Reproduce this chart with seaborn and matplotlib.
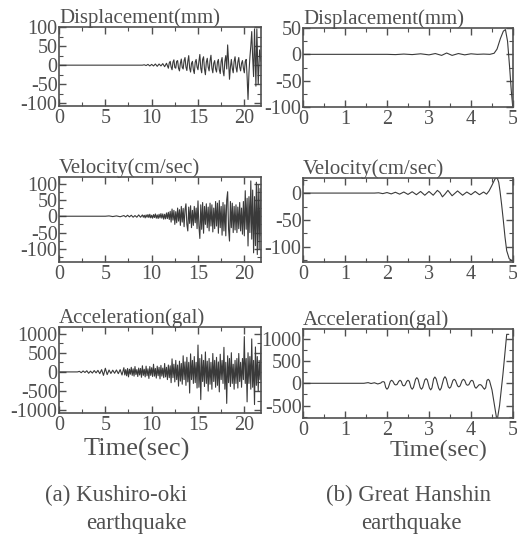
import matplotlib
matplotlib.use('Agg')
import matplotlib.pyplot as plt
import seaborn as sns
from matplotlib.ticker import MultipleLocator

# (time s, value)
kushiro_disp = [(0.0, 0), (9.0, 0), (9.2, 1), (9.4, -1), (9.6, 2), (9.8, -2), (10.0, 2), (10.2, -2),
                (10.4, 3), (10.6, -3), (10.8, 3), (11.0, -2), (11.2, 4), (11.4, -4), (11.6, 5),
                (11.8, -8), (11.9, 6), (12.0, 10), (12.1, -5), (12.2, -12), (12.3, 8), (12.4, 14),
                (12.5, -6), (12.6, -8), (12.7, 10), (12.8, 12), (12.9, -8), (13.0, -15), (13.1, 5),
                (13.2, 16), (13.3, -6), (13.4, -10), (13.5, 12), (13.6, 20), (13.7, -5), (13.8, -14),
                (13.9, 10), (14.0, 25), (14.1, -8), (14.2, -18), (14.3, 5), (14.4, 10), (14.5, -12),
                (14.6, -22), (14.7, 8), (14.8, 15), (14.9, -5), (15.0, -12), (15.1, 10), (15.2, 28),
                (15.3, -8), (15.4, -20), (15.5, 15), (15.6, 22), (15.7, -10), (15.8, -25), (15.9, 8),
                (16.0, 18), (16.1, -5), (16.2, -15), (16.3, 12), (16.4, 26), (16.5, -8), (16.6, -20),
                (16.7, 5), (16.8, 12), (16.9, -10), (17.0, -18), (17.1, 8), (17.2, 15), (17.3, -12),
                (17.4, -22), (17.5, 10), (17.6, 20), (17.7, -15), (17.8, -28), (17.9, 10), (18.0, 25),
                (18.1, -10), (18.2, 53), (18.3, 10), (18.4, -37), (18.5, -5), (18.6, 15), (18.7, -8),
                (18.8, -20), (18.9, 10), (19.0, 22), (19.1, -5), (19.2, -18), (19.3, 8), (19.4, 20),
                (19.5, -5), (19.6, -15), (19.7, 5), (19.8, 12), (19.9, -8), (20.0, -20), (20.1, 10),
                (20.2, 15), (20.3, -30), (20.4, -90), (20.5, -20), (20.6, 20), (20.7, 50), (20.8, 88),
                (20.9, 20), (21.0, -30), (21.1, 95), (21.25, -55), (21.35, 95), (21.5, -50),
                (21.65, 40), (21.8, 10)]

kushiro_vel = [(0.0, 0), (5.0, 0), (5.4, 1), (5.8, -1), (6.2, 1), (6.6, -1.5), (7.0, 2), (7.2, -2),
               (7.4, 3), (7.6, -2), (7.8, 3), (8.0, -3), (8.2, 2), (8.4, -3), (8.6, 4), (8.8, -3),
               (9.0, 4), (9.1, -3), (9.2, 3), (9.3, -5), (9.4, 4), (9.5, -3), (9.6, 5), (9.7, -4),
               (9.8, 6), (9.9, -5), (10.0, 3), (10.1, -6), (10.2, 5), (10.3, -4), (10.4, 7), (10.5, -6),
               (10.6, 4), (10.7, -7), (10.8, 6), (10.9, -5), (11.0, 8), (11.1, -6), (11.2, 7),
               (11.3, -9), (11.4, 6), (11.5, -8), (11.6, 10), (11.7, -7), (11.8, 12), (11.9, -10),
               (12.0, 15), (12.1, -18), (12.2, 22), (12.3, -12), (12.4, 18), (12.5, -25), (12.6, 14),
               (12.7, -20), (12.8, 25), (12.9, -15), (13.0, 20), (13.1, -28), (13.2, 30), (13.3, -18),
               (13.4, 24), (13.5, -32), (13.6, 20), (13.7, 38), (13.8, -25), (13.9, -45), (14.0, 28),
               (14.1, -22), (14.2, 32), (14.3, -35), (14.4, 18), (14.5, -28), (14.6, 30), (14.7, -20),
               (14.8, 25), (14.9, -38), (15.0, 47), (15.1, -30), (15.2, -68), (15.3, 35), (15.4, -40),
               (15.5, 42), (15.6, -52), (15.7, 30), (15.8, -25), (15.9, 38), (16.0, -35), (16.1, 28),
               (16.2, -45), (16.3, 40), (16.4, -30), (16.5, 35), (16.6, -48), (16.7, 25), (16.8, -38),
               (16.9, 45), (17.0, -30), (17.1, 40), (17.2, -52), (17.3, 48), (17.4, -35), (17.5, 30),
               (17.6, -58), (17.7, 42), (17.8, -45), (17.9, 35), (18.0, -60), (18.1, 50), (18.2, 75),
               (18.3, -40), (18.4, -76), (18.5, 45), (18.6, -35), (18.7, 40), (18.8, -50), (18.9, 30),
               (19.0, -42), (19.1, 35), (19.2, -50), (19.3, 28), (19.4, -38), (19.5, 42), (19.6, -45),
               (19.7, 25), (19.8, -55), (19.9, 45), (20.0, -60), (20.1, 78), (20.2, -40), (20.3, 55),
               (20.4, -91), (20.5, 60), (20.6, -50), (20.7, 108), (20.8, -70), (20.9, 80),
               (21.0, -112), (21.1, 60), (21.2, -90), (21.3, 104), (21.4, -117), (21.5, 95),
               (21.6, -100), (21.7, 85), (21.8, -60)]

kushiro_acc = [(0.0, 0), (2.0, 0), (2.2, 15), (2.4, -20), (2.6, 25), (2.8, -15), (3.0, 30), (3.2, -35),
               (3.4, 20), (3.6, -30), (3.8, 35), (4.0, -25), (4.2, 40), (4.4, -45), (4.6, 60),
               (4.8, -90), (5.0, 95), (5.2, -70), (5.4, 50), (5.6, -40), (5.8, 45), (6.0, -35),
               (6.2, 50), (6.4, -45), (6.6, 60), (6.8, -80),
               (7.0, 110), (7.1, -80), (7.2, 60), (7.3, -100), (7.4, 90), (7.5, -130), (7.6, 70),
               (7.7, -60), (7.8, 120), (7.9, -90), (8.0, 80), (8.1, -110), (8.2, 140), (8.3, -70),
               (8.4, 60), (8.5, -120), (8.6, 100), (8.7, -80), (8.8, 90), (8.9, -140), (9.0, 160),
               (9.1, -90), (9.2, 70), (9.3, -130), (9.4, 150), (9.5, -100), (9.6, 80), (9.7, -170),
               (9.8, 140), (9.9, -90), (10.0, 110), (10.1, -120), (10.2, 200), (10.3, -110),
               (10.4, 90), (10.5, -160), (10.6, 150), (10.7, -100), (10.8, 120), (10.9, -180),
               (11.0, 170), (11.1, -110), (11.2, 100), (11.3, -150), (11.4, 220), (11.5, -130),
               (11.6, 120), (11.7, -200), (11.8, 180), (11.9, -150), (12.0, 160), (12.1, -280),
               (12.2, 340), (12.3, -150), (12.4, 200), (12.5, -260), (12.6, 300), (12.7, -200),
               (12.8, 180), (12.9, -370), (13.0, 280), (13.1, -240), (13.2, 220), (13.3, -320),
               (13.4, 420), (13.5, -200), (13.6, 260), (13.7, -350), (13.8, 380), (13.9, -260),
               (14.0, 250), (14.1, -550), (14.2, 470), (14.3, -200), (14.4, 300), (14.5, -300),
               (14.6, 400), (14.7, -280), (14.8, 250), (14.9, -420), (15.0, 700), (15.1, -400),
               (15.2, 350), (15.3, -720), (15.4, 450), (15.5, -250), (15.6, 300), (15.7, -380),
               (15.8, 520), (15.9, -300), (16.0, 280), (16.1, -500), (16.2, 350), (16.3, -320),
               (16.4, 250), (16.5, -450), (16.6, 480), (16.7, -250), (16.8, 300), (16.9, -400),
               (17.0, 380), (17.1, -350), (17.2, 260), (17.3, -520), (17.4, 460), (17.5, -200),
               (17.6, 300), (17.7, -300), (17.8, 640), (17.9, -450), (18.0, 250), (18.1, -820),
               (18.2, 420), (18.3, -280), (18.4, 350), (18.5, -380), (18.6, 500), (18.7, -300),
               (18.8, 200), (18.9, -450), (19.0, 300), (19.1, -300), (19.2, 350), (19.3, -420),
               (19.4, 480), (19.5, -250), (19.6, 250), (19.7, -400), (19.8, 350), (19.9, -200),
               (20.0, 920), (20.1, -300), (20.2, 350), (20.3, -780), (20.4, 500), (20.5, -300),
               (20.6, 400), (20.7, -450), (20.8, 860), (20.9, -400), (21.0, 300), (21.1, -850),
               (21.2, 650), (21.3, -350), (21.4, 400), (21.5, -500), (21.6, 300), (21.7, -200),
               (21.8, 650)]

hanshin_disp = [(0.0, 0), (2.0, 0), (2.2, -0.5), (2.4, 0.5), (2.6, -0.5), (2.8, 1), (3.0, -1), (3.15, 1.5),
                (3.3, -2), (3.42, 2.5), (3.55, -2), (3.7, 1.5), (3.85, -1), (4.0, 1), (4.15, 0),
                (4.3, 0.5), (4.45, 0), (4.55, 2), (4.62, 10), (4.7, 30), (4.77, 44), (4.82, 47),
                (4.87, 25), (4.92, -25), (4.96, -70), (5.0, -105)]

hanshin_vel = [(0.0, 0), (1.7, 0), (1.8, 0.5), (1.9, -1), (2.0, 1), (2.1, -1.5), (2.2, 1.5), (2.3, -2),
               (2.4, 2), (2.5, -2.5), (2.6, 2.5), (2.7, -3), (2.8, 3), (2.9, -4), (3.0, 3), (3.1, -4),
               (3.2, 5), (3.26, 1), (3.32, -7), (3.38, -2), (3.45, 5), (3.55, -5), (3.68, 4), (3.8, -4),
               (3.9, 2), (4.0, -3), (4.1, 3), (4.2, -3), (4.3, 2), (4.37, -2), (4.43, 4), (4.49, 13),
               (4.57, 26), (4.62, 29), (4.66, 20), (4.69, 4), (4.73, -22), (4.77, -51), (4.81, -82),
               (4.85, -107), (4.91, -122), (4.97, -125), (5.0, -126)]

hanshin_acc = [(0.0, 0), (1.45, 0), (1.55, 15), (1.62, -5), (1.7, 12), (1.78, -15), (1.85, 5),
               (1.88, 30), (1.91, 37), (1.94, 25), (1.97, -95), (2.0, -133), (2.03, -100), (2.08, 45),
               (2.11, 67), (2.14, 45), (2.18, -25), (2.21, -37), (2.24, -25), (2.28, 45), (2.31, 67),
               (2.34, 45), (2.37, -40), (2.4, -59), (2.43, -40), (2.47, 45), (2.5, 67), (2.53, 45),
               (2.57, -95), (2.6, -133), (2.63, -95), (2.68, 90), (2.71, 126), (2.74, 90),
               (2.79, -95), (2.82, -133), (2.85, -95), (2.9, 75), (2.93, 104), (2.96, 75),
               (3.01, -105), (3.04, -148), (3.07, -105), (3.11, 100), (3.14, 141), (3.17, 100),
               (3.23, -110), (3.26, -155), (3.29, -110), (3.35, 105), (3.38, 148), (3.41, 105),
               (3.46, -80), (3.49, -111), (3.52, -80), (3.57, 65), (3.6, 89), (3.63, 65),
               (3.68, -58), (3.71, -81), (3.74, -58), (3.79, 65), (3.82, 89), (3.85, 65),
               (3.89, -30), (3.92, -44), (3.95, -30), (3.99, 48), (4.02, 67), (4.05, 48),
               (4.09, -80), (4.12, -111), (4.15, -80), (4.19, -35), (4.22, -30), (4.25, -45),
               (4.29, -100), (4.32, -133), (4.35, -100), (4.38, 65), (4.41, 89), (4.44, 60),
               (4.5, -150), (4.56, -500), (4.62, -850), (4.68, -500), (4.76, 200), (4.85, 1100),
               (4.9, 1100)]

titles = ['Displacement(mm)', 'Velocity(cm/sec)', 'Acceleration(gal)']
captions = [('(a) Kushiro-oki', 'earthquake'), ('(b) Great Hanshin', 'earthquake')]

sns.set_style('ticks')
plt.rcParams['font.family'] = ['Liberation Serif', 'DejaVu Serif']
plt.rcParams['axes.unicode_minus'] = False

ink = '#505050'
trace = '#3a3a3a'
W, H = 517, 540


def box(l, t, r, b):
    return [l / W, 1 - b / H, (r - l) / W, (b - t) / H]


panels = [
    # series, box (px), xlim, ylim, x major/minor, y major/minor
    (kushiro_disp, box(59, 27, 261, 106), (0, 21.8), (-107, 100), (5, 2.5), (50, 25)),
    (kushiro_vel, box(59, 177, 261, 262), (0, 21.8), (-140, 120), (5, 2.5), (50, 25)),
    (kushiro_acc, box(59, 327, 261, 413), (0, 21.8), (-1070, 1170), (5, 2.5), (500, 250)),
    (hanshin_disp, box(303, 28, 513, 107), (0, 5), (-100, 50), (1, 0.5), (50, 25)),
    (hanshin_vel, box(303, 178, 513, 262), (0, 5), (-128, 28), (1, 0.5), (50, 25)),
    (hanshin_acc, box(303, 329, 513, 418), (0, 5), (-780, 1220), (1, 0.5), (500, 250)),
]

fig = plt.figure(figsize=(5.17, 5.40), dpi=100)

for i, (series, rect, xl, yl, xt, yt) in enumerate(panels):
    ax = fig.add_axes(rect)
    t = [p[0] for p in series]
    v = [p[1] for p in series]
    sns.lineplot(x=t, y=v, ax=ax, color=trace, linewidth=0.8, estimator=None, sort=False)
    ax.set_xlim(*xl)
    ax.set_ylim(*yl)
    ax.xaxis.set_major_locator(MultipleLocator(xt[0]))
    ax.xaxis.set_minor_locator(MultipleLocator(xt[1]))
    ax.yaxis.set_major_locator(MultipleLocator(yt[0]))
    ax.yaxis.set_minor_locator(MultipleLocator(yt[1]))
    ax.tick_params(which='both', direction='in', top=True, right=True, colors=ink,
                   labelsize=14.5, labelcolor=ink)
    ax.tick_params(which='major', length=5, width=1.0)
    ax.tick_params(which='minor', length=3, width=0.8)
    ax.tick_params(axis='y', pad=1)
    ax.tick_params(axis='x', pad=2)
    for s in ax.spines.values():
        s.set_color(ink)
        s.set_linewidth(1.2)
    h_px = rect[3] * H
    ax.text(0.0, 1 + 4 / h_px, titles[i % 3], transform=ax.transAxes, ha='left',
            va='baseline', fontsize=15, color=ink)

# x labels and captions placed in pixel positions
fig.text(137 / W, 1 - 449 / H, 'Time(sec)', ha='center', va='center', fontsize=19, color=ink)
fig.text(439 / W, 1 - 450 / H, 'Time(sec)', ha='center', va='center', fontsize=17.5, color=ink)
fig.text(45 / W, 1 - 495 / H, captions[0][0], ha='left', va='center', fontsize=16.5, color=ink)
fig.text(86 / W, 1 - 524 / H, captions[0][1], ha='left', va='center', fontsize=16.5, color=ink)
fig.text(408 / W, 1 - 495 / H, captions[1][0], ha='center', va='center', fontsize=16.5, color=ink)
fig.text(411 / W, 1 - 524 / H, captions[1][1], ha='center', va='center', fontsize=16.5, color=ink)

fig.savefig('out.png', dpi=100)
